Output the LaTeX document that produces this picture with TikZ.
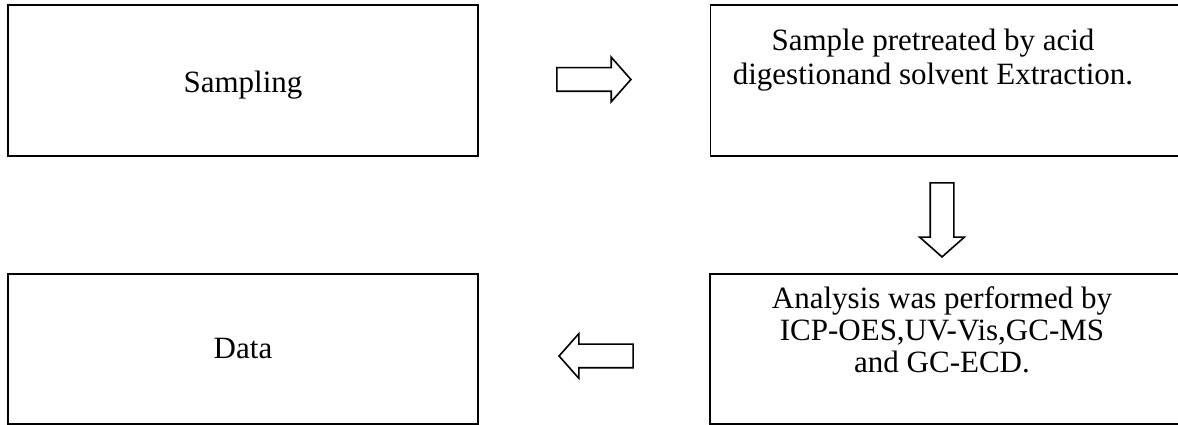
\documentclass[tikz,border=0pt]{standalone}
\usepackage{fontspec}
\setmainfont{Liberation Serif}
\usetikzlibrary{shapes.arrows,positioning}
\tikzset{
  stagebox/.style={draw, line width=1.8pt, minimum width=470pt, minimum height=151pt,
    inner sep=0pt, font=\fontsize{31}{34}\selectfont},
  stagetext/.style={align=center, inner sep=0pt, font=\fontsize{31}{34}\selectfont},
  flowarrow/.style={single arrow, draw, line width=1.6pt, inner xsep=0pt, inner ysep=11pt,
    single arrow head extend=10.5pt, single arrow tip angle=97, minimum height=74pt}
}

\begin{document}
\begin{tikzpicture}[x=1pt,y=1pt]
\useasboundingbox (0,0) rectangle (1178,425);
% top row
\node[stagebox, text height=31pt] (samp) at (243,344.5) {Sampling};
\node[stagebox] (pretreat) at (945.5,344.5) {};
\node[stagetext, anchor=north] (pretreattext) at (933,396.2)
  {Sample pretreated by acid\\digestionand solvent Extraction.};
% bottom row
\node[stagebox, minimum height=150pt] (data) at (243,76) {Data};
\node[stagebox, minimum height=150pt] (analysis) at (945,76) {};
\node[stagetext, anchor=north, font=\fontsize{31}{32}\selectfont] (analysistext) at (942,138.2)
  {Analysis was performed by\\ICP-OES,UV-Vis,GC-MS\\and GC-ECD.};
% block arrows
\node[flowarrow, anchor=tip] (r1) at (632,345.5) {};
\node[flowarrow, rotate=-90, anchor=tip] (d1) at (942,167) {};
\node[flowarrow, rotate=180, anchor=tip] (l1) at (558,69) {};
\end{tikzpicture}
\end{document}
